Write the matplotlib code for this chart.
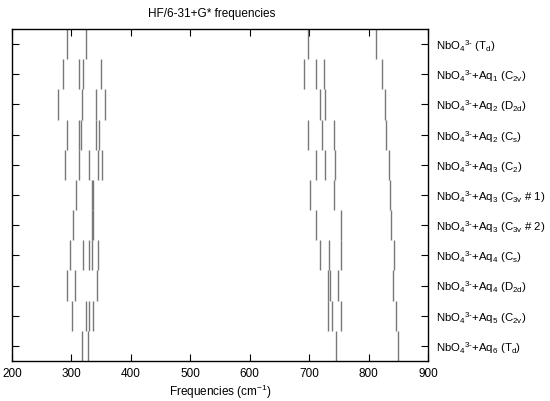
import matplotlib
matplotlib.use("Agg")
import matplotlib.pyplot as plt

plt.rcParams['font.family'] = ['Liberation Sans', 'DejaVu Sans']
plt.rcParams['mathtext.fontset'] = 'custom'
plt.rcParams['mathtext.rm'] = 'Liberation Sans'
plt.rcParams['mathtext.it'] = 'Liberation Sans'
plt.rcParams['mathtext.bf'] = 'Liberation Sans:bold'

# Frequencies (cm-1) per structure
f_nbo4_td = [293, 324, 698, 812]
f_aq1_c2v = [285, 313, 320, 349, 691, 712, 725, 822]
f_aq2_d2d = [278, 317, 342, 356, 718, 726, 828]
f_aq2_cs = [293, 313, 316, 342, 347, 698, 721, 741, 830]
f_aq3_c2 = [289, 312, 329, 344, 351, 712, 727, 744, 835]
f_aq3_c3v1 = [307, 334, 336, 701, 742, 836]
f_aq3_c3v2 = [303, 335, 337, 712, 754, 838]
f_aq4_cs = [297, 320, 330, 334, 344, 718, 733, 754, 842]
f_aq4_d2d = [293, 306, 343, 731, 735, 748, 841]
f_aq5_c2v = [301, 324, 330, 337, 731, 739, 753, 846]
f_aq6_td = [317, 328, 746, 850]

ion = r'NbO$_4{}^{3\text{-}}$'
row_labels = [
    ion + r' (T$_d$)',
    ion + r'+Aq$_1$ (C$_{2v}$)',
    ion + r'+Aq$_2$ (D$_{2d}$)',
    ion + r'+Aq$_2$ (C$_s$)',
    ion + r'+Aq$_3$ (C$_2$)',
    ion + r'+Aq$_3$ (C$_{3v}$ # 1)',
    ion + r'+Aq$_3$ (C$_{3v}$ # 2)',
    ion + r'+Aq$_4$ (C$_s$)',
    ion + r'+Aq$_4$ (D$_{2d}$)',
    ion + r'+Aq$_5$ (C$_{2v}$)',
    ion + r'+Aq$_6$ (T$_d$)',
]
rows = [f_nbo4_td, f_aq1_c2v, f_aq2_d2d, f_aq2_cs, f_aq3_c2, f_aq3_c3v1,
        f_aq3_c3v2, f_aq4_cs, f_aq4_d2d, f_aq5_c2v, f_aq6_td]
x_ticks = [200, 300, 400, 500, 600, 700, 800, 900]

fig = plt.figure(figsize=(5.5, 4.01), dpi=100)
ax = fig.add_axes([12 / 550, 1 - 361 / 401, 416 / 550, 332 / 401])

for i, freqs in enumerate(rows):
    ax.vlines(freqs, i, i + 1, color='#787878', lw=1.0)

ax.set_xlim(200, 900)
ax.set_ylim(len(rows), 0)
ax.set_xticks(x_ticks)
ax.set_yticks([i + 0.5 for i in range(len(rows))])
ax.set_yticklabels(row_labels)
ax.tick_params(axis='x', direction='in', top=True, bottom=True, length=5,
               width=0.8, labelsize=8.5, pad=5)
ax.tick_params(axis='y', direction='in', left=True, right=True, labelleft=False,
               labelright=True, length=5, width=0.8, labelsize=8.2, pad=6)
for s in ax.spines.values():
    s.set_linewidth(1.0)

ax.set_xlabel(r'Frequencies (cm$^{-1}$)', fontsize=8.5, labelpad=2)
ax.set_title('HF/6-31+G* frequencies', fontsize=8.5, pad=9, x=0.48)

fig.savefig('out.png', dpi=100)
